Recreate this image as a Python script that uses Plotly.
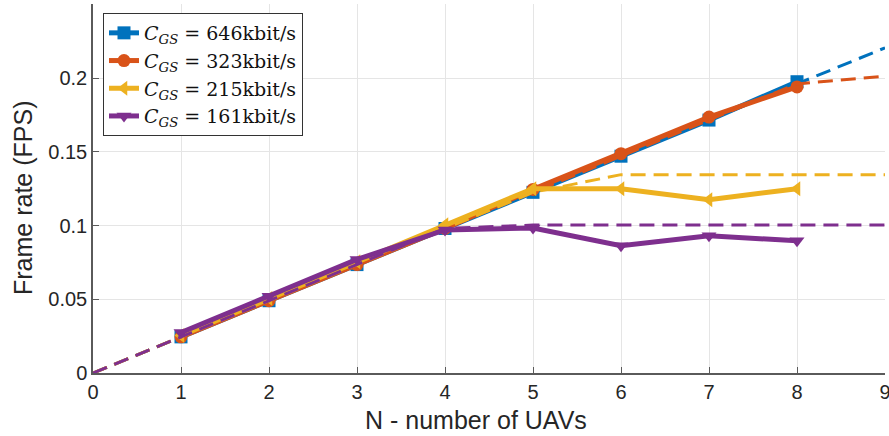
import plotly.graph_objects as go

N = [1, 2, 3, 4, 5, 6, 7, 8]
N_full = [0, 1, 2, 3, 4, 5, 6, 7, 8, 9]

fps_646 = [0.0245, 0.049, 0.0735, 0.098, 0.1225, 0.147, 0.1715, 0.1975]
fps_323 = [0.0245, 0.049, 0.0735, 0.098, 0.1245, 0.1487, 0.1735, 0.194]
fps_215 = [0.0255, 0.0505, 0.0755, 0.1005, 0.125, 0.125, 0.1175, 0.125]
fps_161 = [0.0275, 0.052, 0.077, 0.097, 0.0983, 0.0863, 0.093, 0.0897]

bound_646 = [0, 0.0245, 0.049, 0.0735, 0.098, 0.1225, 0.147, 0.1715, 0.196, 0.2205]
bound_323 = [0, 0.0245, 0.049, 0.0735, 0.098, 0.1225, 0.147, 0.1715, 0.196, 0.2013]
bound_215 = [0, 0.0245, 0.049, 0.0735, 0.098, 0.1225, 0.1345, 0.1345, 0.1345, 0.1345]
bound_161 = [0, 0.0245, 0.049, 0.0735, 0.098, 0.1003, 0.1003, 0.1003, 0.1003, 0.1003]

x_ticks = [0, 1, 2, 3, 4, 5, 6, 7, 8, 9]
y_ticks = [0, 0.05, 0.1, 0.15, 0.2]
y_ticktext = ["0", "0.05", "0.1", "0.15", "0.2"]

labels = ["646", "323", "215", "161"]
colors = ["#0072BD", "#D95319", "#EDB120", "#7E2F8E"]
symbols = ["square", "circle", "triangle-left", "triangle-down"]
solid = [fps_646, fps_323, fps_215, fps_161]
dashed = [bound_646, bound_323, bound_215, bound_161]

fig = go.Figure()
for lab, col, sym, ys, yd in zip(labels, colors, symbols, solid, dashed):
    fig.add_trace(go.Scatter(
        x=N, y=ys, mode="lines+markers",
        line=dict(color=col, width=5),
        marker=dict(symbol=sym, size=13, color=col),
        name="<i>C</i><sub><i>GS</i></sub> = " + lab + "kbit/s",
    ))
    fig.add_trace(go.Scatter(
        x=N_full, y=yd, mode="lines",
        line=dict(color=col, width=3, dash="15px,8px"),
        showlegend=False, hoverinfo="skip",
    ))

W, H = 889, 436
l, r, t, b = 93, 4, 4, 63
pw, ph = W - l - r, H - t - b

axis_col = "#5a5a5a"
fig.update_layout(
    width=W, height=H,
    margin=dict(l=l, r=r, t=t, b=b, autoexpand=False),
    plot_bgcolor="white", paper_bgcolor="white",
    font=dict(family="Liberation Sans, Arial, sans-serif", size=20, color="#262626"),
    showlegend=True,
    legend=dict(
        x=(103 - l) / pw, y=1 - (13 - t) / ph, xanchor="left", yanchor="top",
        bgcolor="white", bordercolor="#333", borderwidth=1,
        font=dict(family="DejaVu Serif, serif", size=19, color="#111"),
        tracegroupgap=0, itemwidth=30,
    ),
    xaxis=dict(
        range=[0, 9], tickvals=x_ticks, automargin=False,
        ticklabeloverflow="allow",
        showgrid=True, gridcolor="#e5e5e5", gridwidth=1,
        showline=True, linecolor=axis_col, linewidth=1.5,
        ticks="inside", ticklen=6, tickcolor=axis_col,
        zeroline=False, mirror=False,
        tickfont=dict(size=20),
    ),
    yaxis=dict(
        range=[0, 0.2502], tickvals=y_ticks, ticktext=y_ticktext, automargin=False,
        showgrid=True, gridcolor="#e5e5e5", gridwidth=1,
        showline=True, linecolor=axis_col, linewidth=1.5,
        ticks="inside", ticklen=6, tickcolor=axis_col,
        zeroline=False, mirror=False,
        tickfont=dict(size=20),
    ),
    annotations=[
        dict(text="N - number of UAVs", x=(476 - l) / pw, y=1 - (420 - t) / ph,
             xref="paper", yref="paper", xanchor="center", yanchor="middle",
             showarrow=False, font=dict(size=25)),
        dict(text="Frame rate (FPS)", x=(23 - l) / pw, y=1 - (198 - t) / ph,
             xref="paper", yref="paper", xanchor="center", yanchor="middle",
             textangle=-90, showarrow=False, font=dict(size=25)),
    ],
)

fig.write_html("out.html", config={"displayModeBar": False},
               post_script="document.body.style.margin='0';")
